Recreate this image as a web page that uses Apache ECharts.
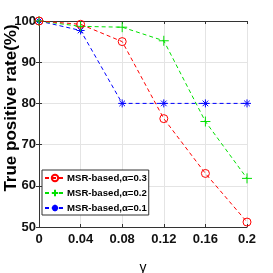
<!DOCTYPE html>
<html><head><meta charset="utf-8">
<script src="https://cdn.jsdelivr.net/npm/echarts@6/dist/echarts.min.js"></script>
<style>html,body{margin:0;padding:0;background:#fff}#c{width:273px;height:273px}</style>
</head><body><div id="c"></div>
<script>
var gammas = [0, 0.04, 0.08, 0.12, 0.16, 0.2];
var xTicks = ['0', '0.04', '0.08', '0.12', '0.16', '0.2'];
var seriesNames = ['MSR-based,\u03b1=0.3', 'MSR-based,\u03b1=0.2', 'MSR-based,\u03b1=0.1'];
var redVals = [100, 99.2, 95, 76.3, 63, 51.2];
var greenVals = [100, 98.7, 98.5, 95.2, 75.6, 61.8];
var blueVals = [100, 97.7, 80, 80, 80, 80];
var colors = ['#ff0000', '#00e000', '#0000ff'];

function pairs(v){ return gammas.map(function(g,i){ return [g, v[i]]; }); }
var FF = '"Liberation Sans", Arial, sans-serif';
var FN = '"Liberation Sans Narrow", "Arial Narrow", "Liberation Sans", sans-serif';
var plus = 'path://M5,0L5,10M0,5L10,5';
var star = 'path://M5,0L5,10M0,5L10,5M1.5,1.5L8.5,8.5M1.5,8.5L8.5,1.5';

var chart = echarts.init(document.getElementById('c'));
function mk(i, vals, sym, size, fill){
  return {
    name: seriesNames[i], type: 'line', data: pairs(vals),
    symbol: sym, symbolSize: size, showAllSymbol: true,
    lineStyle: {color: colors[i], width: 1, type: [4,3]},
    itemStyle: {color: fill || colors[i], borderColor: colors[i], borderWidth: 1},
    z: 3 + (2 - i)
  };
}
chart.setOption({
  animation: false,
  grid: {left: 39, right: 26, top: 21, bottom: 46, outerBoundsMode: 'none', containLabel: false},
  legend: {
    orient: 'vertical', left: 42, top: 170,
    backgroundColor: '#fff', borderColor: '#333', borderWidth: 1,
    padding: [3, 2, 2, 2], itemGap: 5, itemWidth: 20, itemHeight: 8,
    textStyle: {fontFamily: FN, fontWeight: 'bold', fontSize: 9.6, color: '#000', padding: [0,0,0,-3]},
    data: seriesNames
  },
  xAxis: [{
    type: 'value', min: 0, max: 0.2, interval: 0.04,
    name: '\u03b3', nameLocation: 'middle', nameGap: 34, nameMoveOverlap: false,
    nameTextStyle: {fontFamily: FF, fontSize: 14, color: '#000'},
    axisLine: {lineStyle: {color: '#333'}},
    axisTick: {inside: true, length: 3, lineStyle: {color: '#333'}},
    axisLabel: {fontFamily: FN, fontWeight: 'bold', fontSize: 13, color: '#111', margin: 6,
      formatter: function(v){ var i = Math.round(v/0.04); return xTicks[i]; }},
    splitLine: {show: true, lineStyle: {color: '#e4e4e4'}}
  }, {
    type: 'value', position: 'top', min: 0, max: 0.2, interval: 0.04,
    axisLine: {show: true, lineStyle: {color: '#333'}},
    axisTick: {inside: true, length: 3, lineStyle: {color: '#333'}},
    axisLabel: {show: false}, splitLine: {show: false}
  }],
  yAxis: [{
    type: 'value', min: 50, max: 100, interval: 10,
    name: 'True positive rate(%)', nameLocation: 'middle', nameGap: 19, nameRotate: 90, nameMoveOverlap: false,
    nameTextStyle: {fontFamily: FF, fontWeight: 'bold', fontSize: 17, color: '#000', padding: [0,0,0,32]},
    axisLine: {show: true, lineStyle: {color: '#333'}},
    axisTick: {show: true, inside: true, length: 3, lineStyle: {color: '#333'}},
    axisLabel: {fontFamily: FN, fontWeight: 'bold', fontSize: 13, color: '#111', margin: 3},
    splitLine: {show: true, lineStyle: {color: '#e4e4e4'}}
  }, {
    type: 'value', position: 'right', min: 50, max: 100, interval: 10,
    axisLine: {show: true, lineStyle: {color: '#333'}},
    axisTick: {show: true, inside: true, length: 3, lineStyle: {color: '#333'}},
    axisLabel: {show: false}, splitLine: {show: false}
  }],
  series: [
    mk(0, redVals, 'circle', 8, 'rgba(255,255,255,0)'),
    mk(1, greenVals, plus, 10),
    mk(2, blueVals, star, 8)
  ]
});
</script></body></html>
